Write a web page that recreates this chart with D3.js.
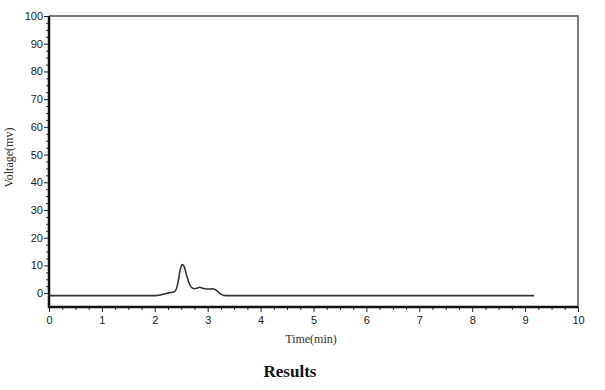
<!DOCTYPE html>
<html>
<head>
<meta charset="utf-8">
<script src="https://cdn.jsdelivr.net/npm/d3@7"></script>
<style>
  body { margin: 0; background: #fff; }
  .tick text { font-family: Arial, "Liberation Sans", sans-serif; font-size: 11px; fill: #222; }
</style>
</head>
<body>
<div id="chart"></div>
<script>

// chromatogram trace (time in min, voltage in mv)
var times = [0, 2.0, 2.1, 2.2, 2.3, 2.38, 2.44, 2.48, 2.52, 2.56, 2.6, 2.65, 2.7, 2.75, 2.8, 2.85, 2.9, 2.95, 3.0, 3.05, 3.1, 3.15, 3.2, 3.25, 3.3, 3.4, 4.0, 9.17];
var volts = [-0.9, -0.9, -0.7, -0.2, 0.2, 0.6, 4, 8.5, 10.3, 9.4, 6.5, 3.5, 2.0, 1.6, 1.8, 2.1, 1.8, 1.6, 1.5, 1.5, 1.6, 1.2, 0.4, -0.3, -0.8, -0.9, -0.9, -0.9];

var xTicks = [0, 1, 2, 3, 4, 5, 6, 7, 8, 9, 10];
var yTicks = [0, 10, 20, 30, 40, 50, 60, 70, 80, 90, 100];

var margin = {top: 16, right: 27, bottom: 83, left: 49};
var width = 605 - margin.left - margin.right,
    height = 390 - margin.top - margin.bottom;

var svg = d3.select("#chart").append("svg")
    .attr("width", 605)
    .attr("height", 390)
  .append("g")
    .attr("transform", "translate(" + margin.left + "," + margin.top + ")");

// Scales
var x = d3.scaleLinear().domain([0, 10]).range([0, width]);
var y = d3.scaleLinear().domain([-5, 100]).range([height, 0]);

// minor ticks (quarters)
var xMinor = d3.range(0, 10.01, 0.25).filter(function(d) { return d % 1 != 0; });
var yMinor = d3.range(0, 100.01, 2.5).filter(function(d) { return d % 10 != 0; });

svg.append("g")
    .attr("transform", "translate(0," + height + ")")
    .call(d3.axisBottom(x).tickValues(xMinor).tickSize(3).tickFormat(""))
    .call(function(g) { g.select(".domain").remove(); g.selectAll("line").attr("stroke", "#333"); });

svg.append("g")
    .call(d3.axisLeft(y).tickValues(yMinor).tickSize(3).tickFormat(""))
    .call(function(g) { g.select(".domain").remove(); g.selectAll("line").attr("stroke", "#333"); });

// major axes
svg.append("g")
    .attr("transform", "translate(0," + height + ")")
    .call(d3.axisBottom(x).tickValues(xTicks).tickSize(5).tickPadding(4))
    .call(function(g) { g.select(".domain").remove(); g.selectAll("line").attr("stroke", "#222"); });

svg.append("g")
    .call(d3.axisLeft(y).tickValues(yTicks).tickSize(5).tickPadding(1))
    .call(function(g) { g.select(".domain").remove(); g.selectAll("line").attr("stroke", "#222"); });

// frame: gray top/right, black left/bottom
svg.append("path")
    .attr("d", "M0,0H" + width + "V" + height)
    .attr("fill", "none")
    .attr("stroke", "#7a7a7a")
    .attr("stroke-width", 2);

svg.append("path")
    .attr("d", "M0,0V" + height + "H" + width)
    .attr("fill", "none")
    .attr("stroke", "#111")
    .attr("stroke-width", 2.5);

// trace
var line = d3.line()
    .x(function(d, i) { return x(times[i]); })
    .y(function(d) { return y(d); })
    .curve(d3.curveMonotoneX);

svg.append("path")
    .datum(volts)
    .attr("fill", "none")
    .attr("stroke", "#333")
    .attr("stroke-width", 1.6)
    .attr("d", line);

// labels
svg.append("text")
    .attr("transform", "translate(-36," + (height / 2 - 4) + ") rotate(-90)")
    .attr("text-anchor", "middle")
    .style("font-family", "'Liberation Serif', 'Times New Roman', serif")
    .style("font-size", "12px")
    .style("fill", "#333")
    .text("Voltage(mv)");

svg.append("text")
    .attr("x", 262)
    .attr("y", height + 36)
    .attr("text-anchor", "middle")
    .style("font-family", "'Liberation Serif', 'Times New Roman', serif")
    .style("font-size", "12px")
    .style("fill", "#333")
    .text("Time(min)");

svg.append("text")
    .attr("x", 241)
    .attr("y", height + 70)
    .attr("text-anchor", "middle")
    .style("font-family", "'Liberation Serif', 'Times New Roman', serif")
    .style("font-size", "17px")
    .style("font-weight", "bold")
    .style("fill", "#111")
    .text("Results");

</script>
</body>
</html>
